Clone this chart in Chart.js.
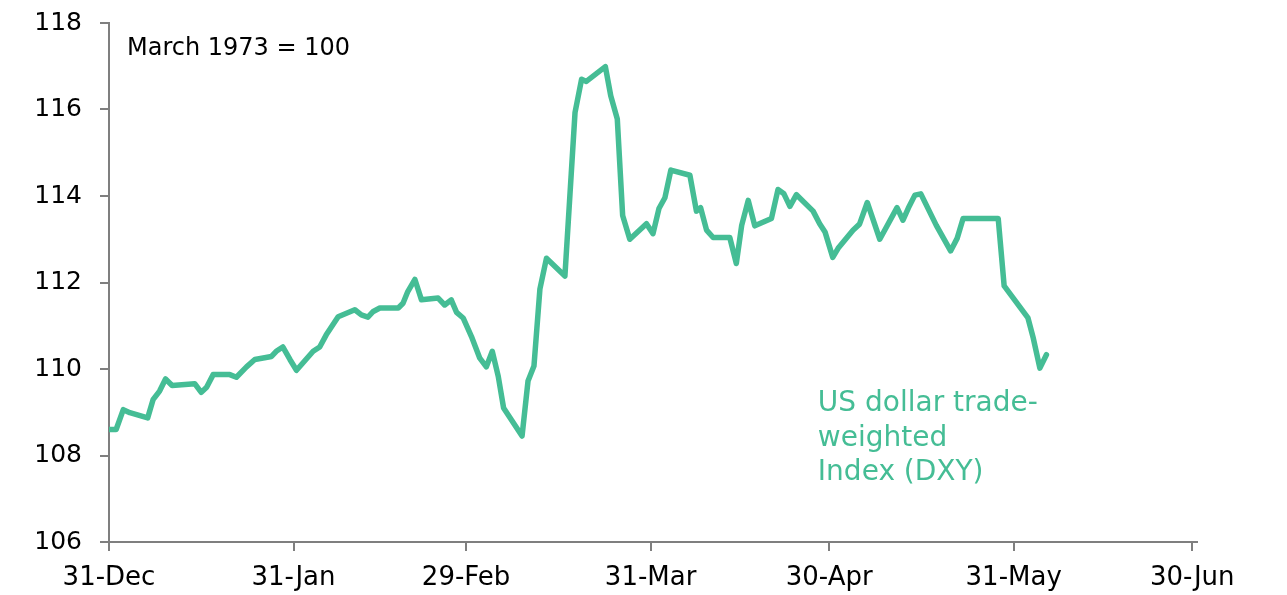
<!DOCTYPE html>
<html lang="en">
<head>
    <meta charset="UTF-8">
    <title>US dollar trade-weighted index</title>
    <script src="https://cdnjs.cloudflare.com/ajax/libs/Chart.js/4.4.8/chart.umd.min.js"></script>
    <style>
        html, body { margin: 0; padding: 0; background: #fff; }
        #wrap { width: 1287px; height: 595px; }
    </style>
</head>
<body>
    <div id="wrap"><canvas id="chart" width="1287" height="595"></canvas></div>

    <script>
        // days since 31-Dec
        const days = [0, 1.2, 2.4, 3.5, 6.5, 7.4, 8.5, 9.5, 10.6, 14.4,
            15.5, 16.4, 17.5, 20.3, 21.4, 23.1, 24.5, 27.3, 28.1, 29.2,
            30.4, 31.5, 34.3, 35.4, 36.5, 38.5, 41.3, 42.4, 43.5, 44.4,
            45.5, 48.6, 49.4, 50.2, 51.4, 52.5, 55.3, 56.4, 57.5, 58.4,
            59.5, 60.9, 62.3, 63.4, 64.4, 65.4, 66.3, 69.4, 70.4, 71.4,
            72.4, 73.5, 76.6, 78.3, 79.4, 80.2, 83.4, 84.3, 85.4, 86.3,
            87.5, 90.3, 91.4, 92.4, 93.4, 94.4, 97.6, 98.7, 99.4, 100.4,
            101.5, 104.3, 105.4, 106.3, 107.4, 108.5, 111.3, 112.4, 113.4, 114.4,
            115.5, 118.3, 119.4, 120.3, 121.6, 122.5, 125.0, 126.1, 127.4, 129.5,
            132.4, 133.4, 134.3, 135.4, 136.4, 139.0, 141.4, 142.5, 143.5, 149.4,
            150.4, 154.4, 155.3, 156.4, 157.5];

        const dxy = [108.60, 108.60, 109.06, 108.99, 108.87, 109.29, 109.49, 109.77, 109.62, 109.66,
            109.46, 109.58, 109.87, 109.87, 109.81, 110.05, 110.22, 110.29, 110.41, 110.51,
            110.22, 109.97, 110.41, 110.51, 110.79, 111.21, 111.37, 111.25, 111.20, 111.33,
            111.41, 111.41, 111.52, 111.79, 112.07, 111.60, 111.64, 111.48, 111.60, 111.31,
            111.18, 110.75, 110.25, 110.05, 110.41, 109.83, 109.10, 108.45, 109.72, 110.07,
            111.85, 112.56, 112.15, 115.93, 116.70, 116.65, 116.99, 116.32, 115.78, 113.55,
            113.00, 113.36, 113.13, 113.71, 113.96, 114.60, 114.48, 113.65, 113.73, 113.21,
            113.04, 113.04, 112.44, 113.32, 113.90, 113.31, 113.48, 114.15, 114.05, 113.76,
            114.03, 113.65, 113.36, 113.17, 112.58, 112.79, 113.21, 113.35, 113.85, 113.00,
            113.73, 113.44, 113.72, 114.02, 114.05, 113.32, 112.73, 113.02, 113.48, 113.48,
            111.92, 111.18, 110.71, 110.02, 110.33];

        const tickDays = [0, 31, 60, 91, 121, 152, 182];
        const tickLabels = ['31-Dec', '31-Jan', '29-Feb', '31-Mar', '30-Apr', '31-May', '30-Jun'];
        const yTicks = [106, 108, 110, 112, 114, 116, 118];

        const seriesName = ['US dollar trade-', 'weighted', 'Index (DXY)'];
        const baseNote = 'March 1973 = 100';

        const green = '#45bd95';
        const axisGrey = '#7f7f7f';
        const fontFamily = '"DejaVu Sans", sans-serif';

        // text on the plot: base note and series name
        const notes = {
            id: 'notes',
            afterDraw(chart) {
                const ctx = chart.ctx;
                const area = chart.chartArea;
                const xs = chart.scales.x, ys = chart.scales.y;
                ctx.save();
                ctx.textBaseline = 'middle';
                ctx.textAlign = 'left';
                ctx.fillStyle = '#000';
                ctx.font = '24px ' + fontFamily;
                ctx.fillText(baseNote, area.left + 18, area.top + 26);

                ctx.fillStyle = green;
                ctx.font = '28px ' + fontFamily;
                const x0 = xs.getPixelForValue(119.1);
                const y0 = ys.getPixelForValue(109.19);
                seriesName.forEach(function (line, i) {
                    ctx.fillText(line, x0, y0 + i * 34.5);
                });
                ctx.restore();
            }
        };

        new Chart(document.getElementById('chart'), {
            type: 'line',
            data: {
                datasets: [{
                    label: 'US dollar trade-weighted Index (DXY)',
                    data: days.map(function (d, i) { return { x: d, y: dxy[i] }; }),
                    borderColor: green,
                    borderWidth: 5.5,
                    borderJoinStyle: 'round',
                    borderCapStyle: 'round',
                    pointRadius: 0,
                    tension: 0,
                    fill: false
                }]
            },
            options: {
                responsive: false,
                animation: false,
                layout: { padding: { top: 23, right: 90, left: 0, bottom: 0 } },
                plugins: {
                    legend: { display: false },
                    tooltip: { enabled: false }
                },
                scales: {
                    x: {
                        type: 'linear',
                        min: 0,
                        max: 182.8,
                        afterBuildTicks: function (scale) {
                            scale.ticks = tickDays.map(function (v) { return { value: v }; });
                        },
                        afterFit: function (scale) {
                            scale.height = 53;
                            scale.paddingLeft = 0;
                            scale.paddingRight = 0;
                        },
                        ticks: {
                            autoSkip: false,
                            maxRotation: 0,
                            padding: 12,
                            color: '#000',
                            font: { family: fontFamily, size: 26 },
                            callback: function (v) {
                                const i = tickDays.indexOf(v);
                                return i >= 0 ? tickLabels[i] : '';
                            }
                        },
                        grid: {
                            drawOnChartArea: false,
                            drawTicks: true,
                            tickLength: 9,
                            color: axisGrey,
                            lineWidth: 2
                        },
                        border: { display: true, color: axisGrey, width: 2 }
                    },
                    y: {
                        min: 106,
                        max: 118,
                        afterBuildTicks: function (scale) {
                            scale.ticks = yTicks.map(function (v) { return { value: v }; });
                        },
                        afterFit: function (scale) {
                            scale.width = 109;
                            scale.paddingTop = 0;
                            scale.paddingBottom = 0;
                        },
                        ticks: {
                            padding: 18,
                            color: '#000',
                            font: { family: fontFamily, size: 25 }
                        },
                        grid: {
                            drawOnChartArea: false,
                            drawTicks: true,
                            tickLength: 9,
                            color: axisGrey,
                            lineWidth: 2
                        },
                        border: { display: true, color: axisGrey, width: 2 }
                    }
                }
            },
            plugins: [notes]
        });
    </script>
</body>
</html>
